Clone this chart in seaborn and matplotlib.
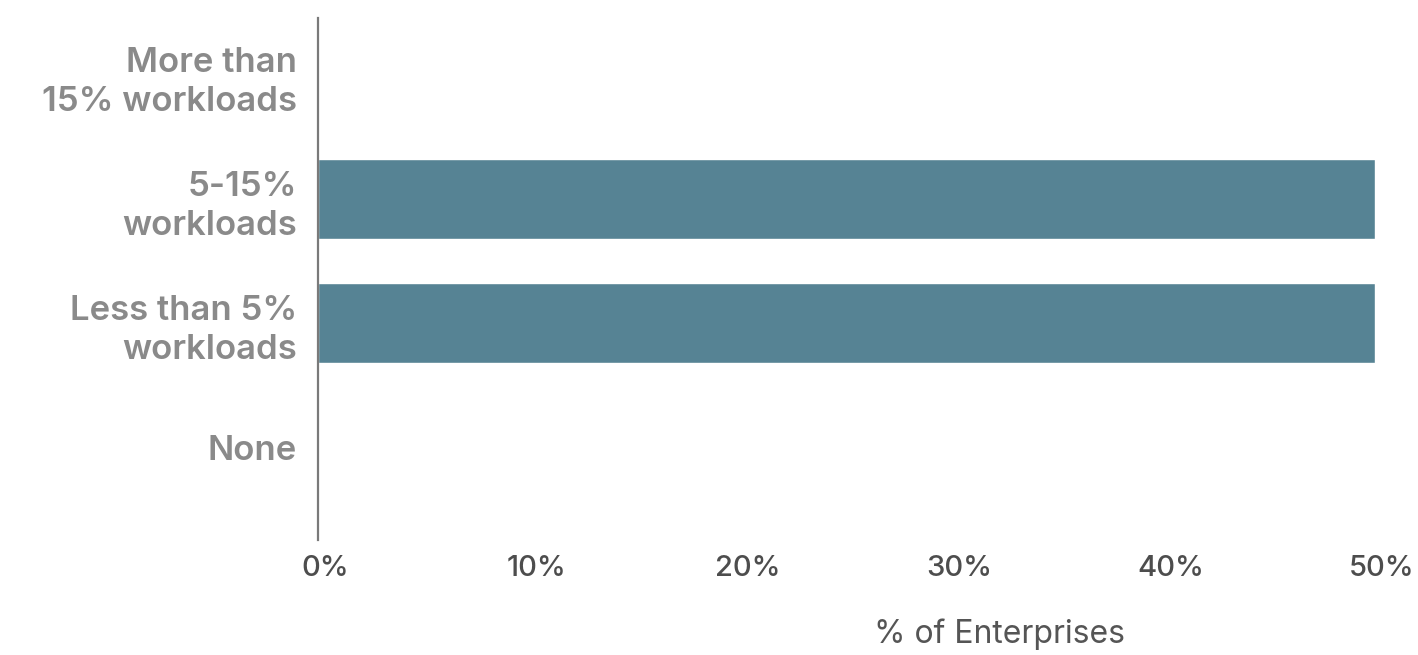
import numpy as np
import pandas as pd
import seaborn as sns
import matplotlib.pyplot as plt
import matplotlib.transforms as mtransforms
from matplotlib.ticker import FuncFormatter

sns.set_style("white")
plt.rcParams['font.family'] = ['Inter', 'DejaVu Sans']

# data
categories = ["More than\n15% workloads", "5-15%\nworkloads", "Less than 5%\nworkloads", "None"]
values = [0, 50, 50, 0]
x_ticks = [0, 10, 20, 30, 40, 50]

df = pd.DataFrame({'category': categories, 'pct': values})

fig = plt.figure(figsize=(14.18, 6.55), dpi=100)
ax = fig.add_axes([318 / 1418, 1 - 540 / 655, 1057 / 1418, 522 / 655])

sns.barplot(data=df, x='pct', y='category', orient='h', color='#568394',
            saturation=1, width=0.645, ax=ax)

ax.set_xlim(0, 50)
ax.set_ylim(3.75, -0.46)
ax.set_xticks(x_ticks)
ax.xaxis.set_major_formatter(FuncFormatter(lambda v, p: '{:d}%'.format(int(v))))

for s in ['top', 'right', 'bottom']:
    ax.spines[s].set_visible(False)
ax.spines['left'].set_color('#7a7a7a')
ax.spines['left'].set_linewidth(1.6)

ax.tick_params(axis='x', length=0, pad=11, labelsize=21, labelcolor='#4d4d4d')
ax.tick_params(axis='y', length=0, pad=15, labelsize=25, labelcolor='#8a8a8a')
for lbl in ax.get_yticklabels():
    lbl.set_linespacing(1.3)
    lbl.set_fontweight('semibold')
# nudge x tick labels a bit right like the original
shift = mtransforms.ScaledTranslation(7 / 100, 0, fig.dpi_scale_trans)
for lbl in ax.get_xticklabels():
    lbl.set_fontweight('medium')
    lbl.set_transform(lbl.get_transform() + shift)

ax.set_ylabel('')
ax.set_xlabel('% of Enterprises', fontsize=23, color='#555555', fontweight='normal')
ax.xaxis.set_label_coords(0.645, -0.15)

fig.savefig('out.png', dpi=100)
